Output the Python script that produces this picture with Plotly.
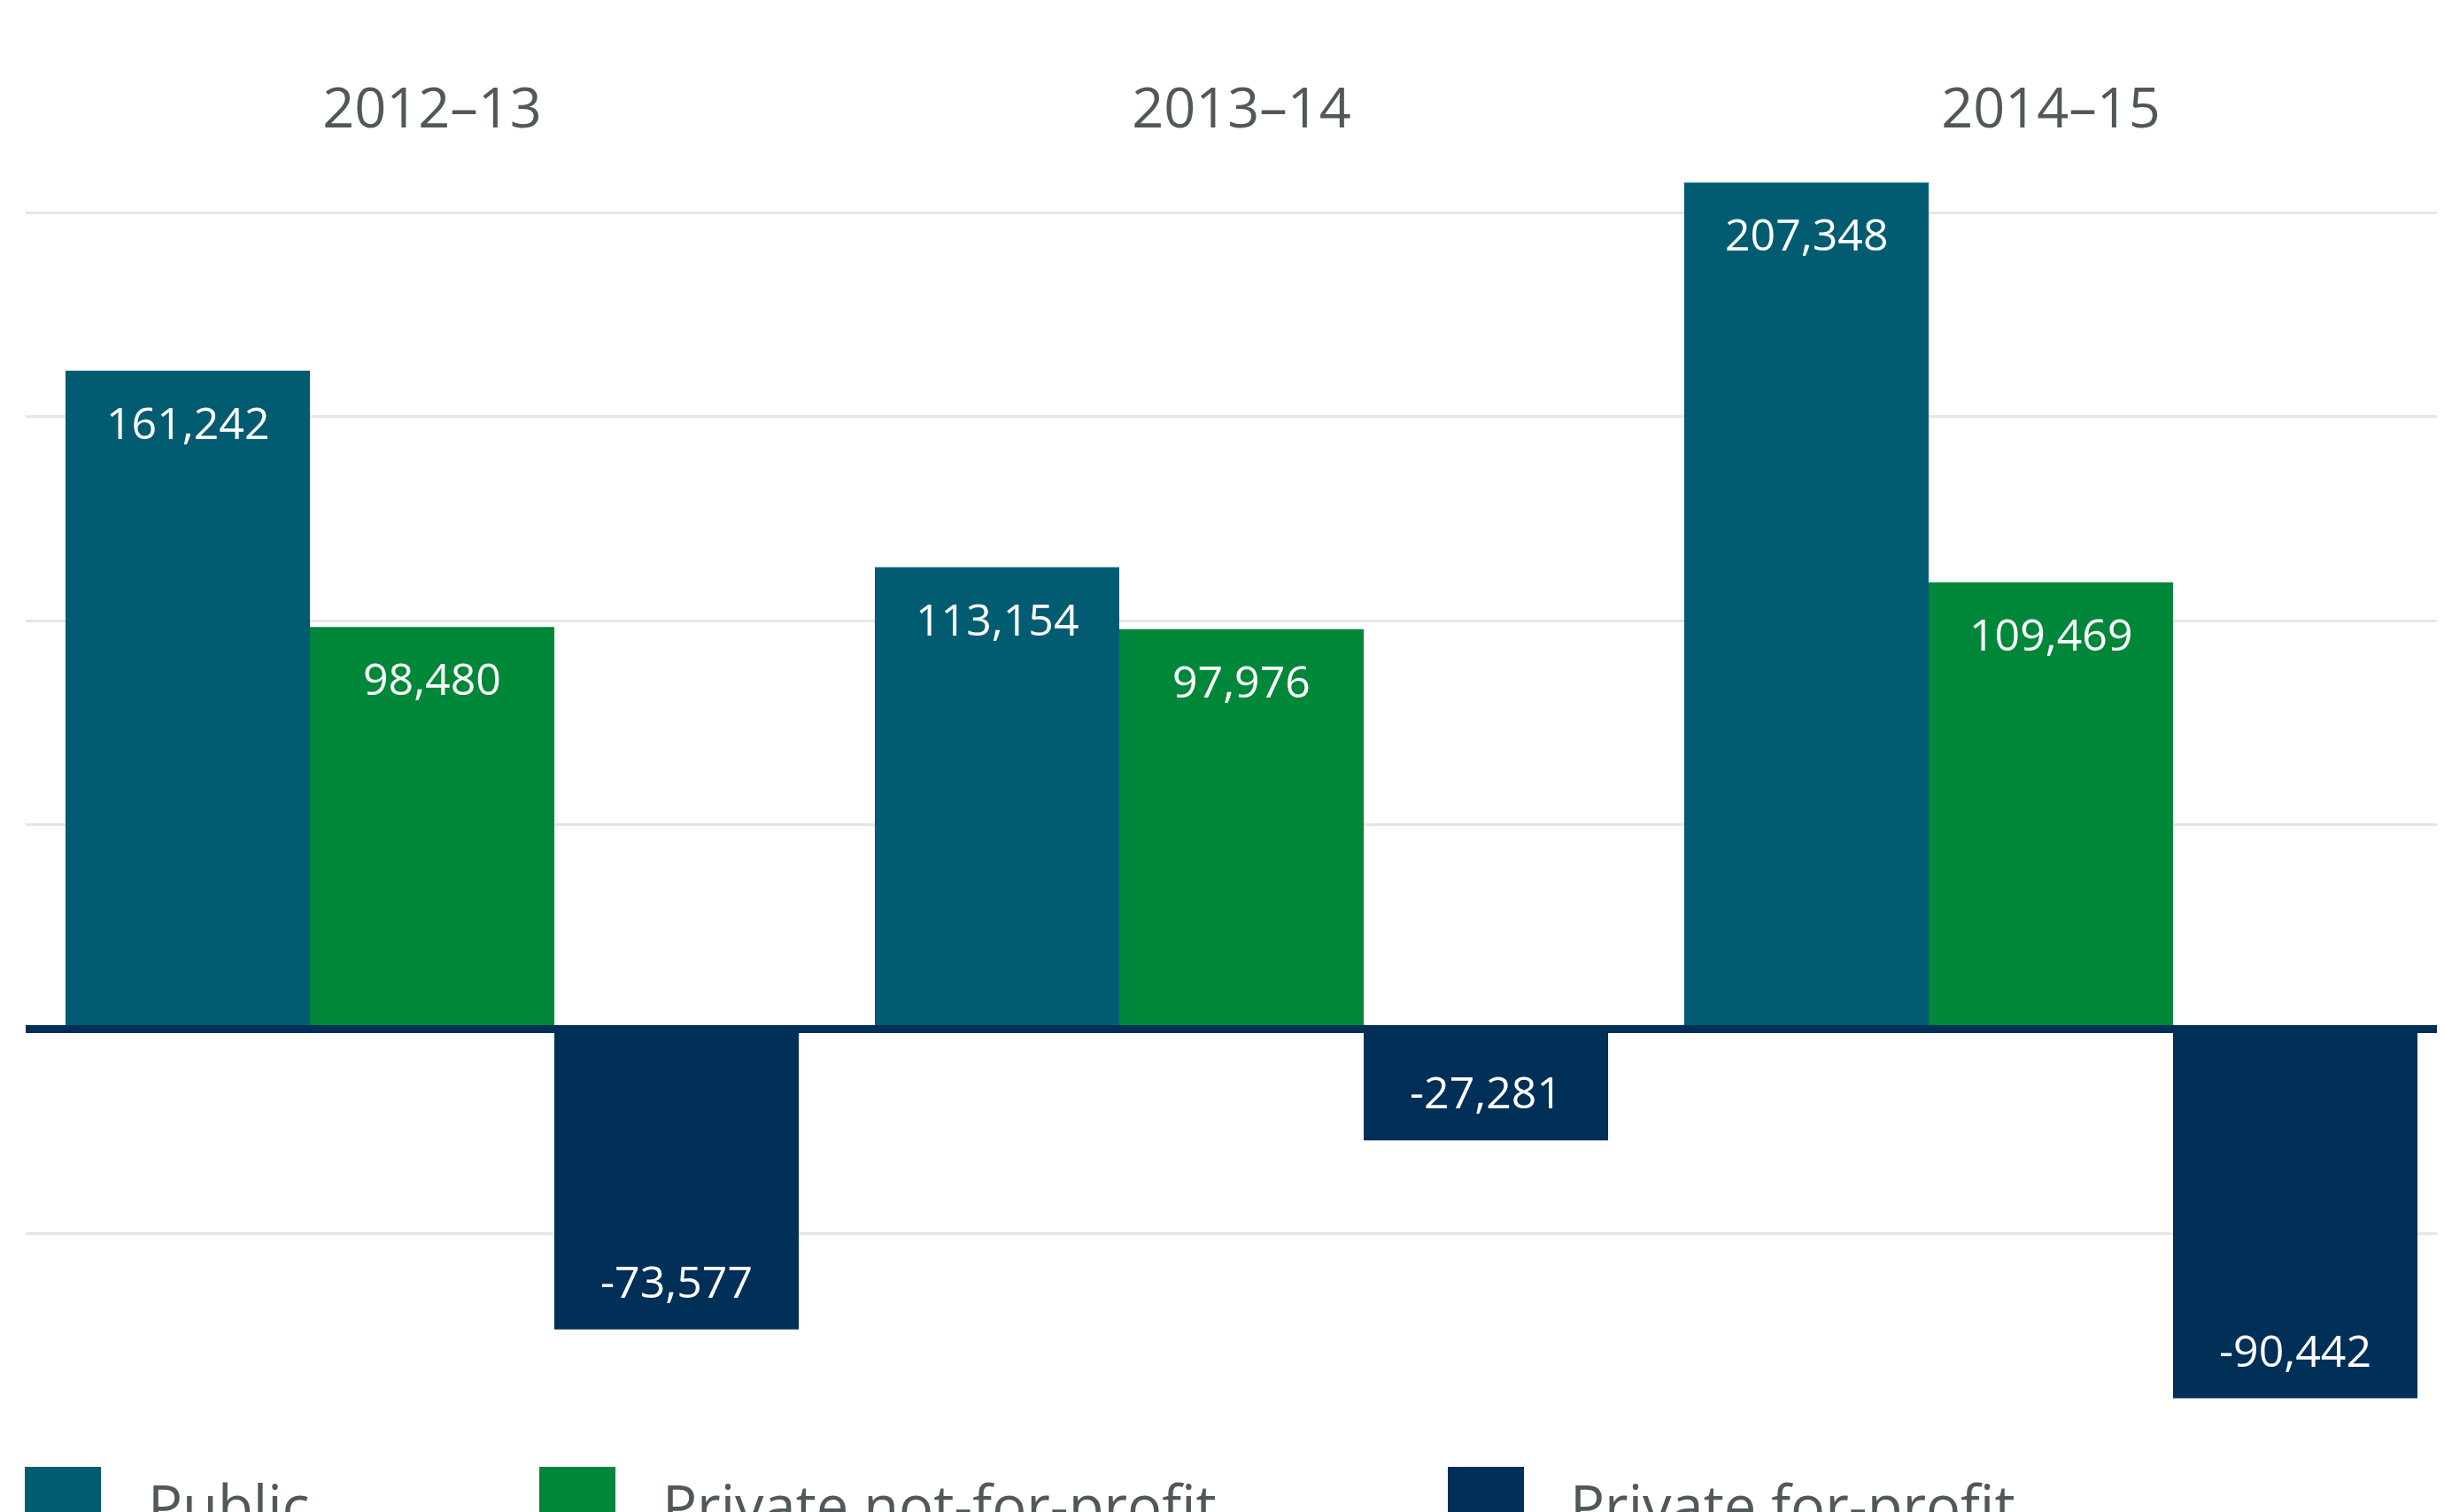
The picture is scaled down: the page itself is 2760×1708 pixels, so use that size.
import plotly.graph_objects as go

# ---------------- data ----------------
categories = ["2012–13", "2013–14", "2014–15"]
series_names = ["Public", "Private not-for-profit", "Private for-profit"]
public_vals = [161242, 113154, 207348]
pnfp_vals = [98480, 97976, 109469]
pfp_vals = [-73577, -27281, -90442]
series_values = [public_vals, pnfp_vals, pfp_vals]
colors = ["#015C71", "#008739", "#002F57"]

# ---------------- layout geometry ----------------
OFF = 8                      # page body margin in the browser
W, H = 2760 - OFF, 1708 - OFF
# desired page positions, converted to figure coordinates
PL, PR, PT, PB = 29 - OFF, 2760 - OFF, 190 - OFF, 1600 - OFF
ZERO_Y = 1162.5 - OFF
BARGAP = 0.094
TEXT_GREY = "#51585A"
FONT = "Open Sans"

def px_to_paper_x(px):
    return (px - OFF - PL) / (PR - PL)

def px_to_paper_y(py):
    return (PB - (py - OFF)) / (PB - PT)

fig = go.Figure()
for name, vals, col in zip(series_names, series_values, colors):
    fig.add_trace(go.Bar(
        x=categories, y=vals, name=name,
        marker=dict(color=col, line=dict(width=0)),
        showlegend=False, hoverinfo="skip",
    ))

# value labels
bar_w = (1 - BARGAP) / len(series_names)
annotations = []
for k, vals in enumerate(series_values):
    for i, v in enumerate(vals):
        pos = v >= 0
        annotations.append(dict(
            x=i + (k - 1) * bar_w, y=v, xref="x", yref="y",
            text=f"{v:,}", showarrow=False,
            xanchor="center", yanchor="top" if pos else "bottom",
            yshift=-22 if pos else 19,
            font=dict(family=FONT, size=50, color="white"),
        ))

# custom legend (large swatches)
legend_swatch_x = [28, 609, 1635]
legend_text_x = [165, 746, 1771]
shapes = []
for name, col, sx, tx in zip(series_names, colors, legend_swatch_x, legend_text_x):
    shapes.append(dict(
        type="rect", xref="paper", yref="paper",
        x0=px_to_paper_x(sx), x1=px_to_paper_x(sx + 86),
        y0=px_to_paper_y(1657), y1=px_to_paper_y(1730),
        fillcolor=col, line=dict(width=0), layer="above",
    ))
    annotations.append(dict(
        x=px_to_paper_x(tx), y=px_to_paper_y(1654), xref="paper", yref="paper",
        text=name, showarrow=False, xanchor="left", yanchor="top",
        font=dict(family=FONT, size=65, color=TEXT_GREY),
    ))

# zero line above bars
shapes.append(dict(
    type="line", xref="paper", yref="y", x0=0, x1=1, y0=0, y1=0,
    line=dict(color="#002F57", width=9), layer="above",
))

ymax = (ZERO_Y - PT) / 230.6 * 50000
ymin = -(PB - ZERO_Y) / 230.6 * 50000
xmax = 2 + (PR - (2316 - OFF)) / 914
xmin = -(488 - 29) / 914

fig.update_layout(
    width=W, height=H,
    margin=dict(l=PL, r=W - PR, t=PT, b=H - PB, pad=0),
    paper_bgcolor="white", plot_bgcolor="white",
    barmode="group", bargap=BARGAP, bargroupgap=0,
    annotations=annotations, shapes=shapes,
    showlegend=False,
    xaxis=dict(
        type="category", side="top", range=[xmin, xmax],
        showgrid=False, zeroline=False, showline=False, ticks="",
        tickfont=dict(family=FONT, size=63, color=TEXT_GREY),
        ticklabelstandoff=32,
    ),
    yaxis=dict(
        range=[ymin, ymax], dtick=50000, tick0=0,
        showticklabels=False, ticks="", showline=False, zeroline=False,
        showgrid=True, gridcolor="#E6E6E6", gridwidth=3,
    ),
)

fig.write_html("out.html")
